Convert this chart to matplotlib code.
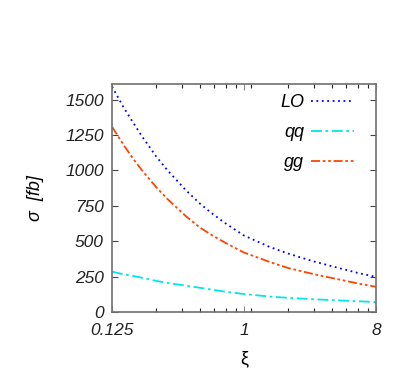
import numpy as np
import matplotlib.pyplot as plt
from matplotlib.ticker import FixedLocator, NullFormatter

xi = [0.125, 0.15, 0.175, 0.2, 0.25, 0.3, 0.4, 0.5, 0.6, 0.75, 1, 1.5, 2, 3, 4, 6, 8]
sigma_lo = [1592, 1445, 1335, 1242, 1100, 1000, 860, 765, 698, 625, 540, 459, 413, 357, 323, 276, 248]
sigma_qq = [285, 266, 254, 242, 220, 205, 186, 171, 158, 143, 127, 109, 100, 90, 84, 76, 70]
sigma_gg = [1308, 1180, 1080, 1002, 883, 797, 677, 596, 544, 487, 420, 353, 311, 267, 240, 202, 178]

x_major = [0.125, 1, 8]
x_major_labels = ['0.125', '1', '8']
x_minor = [0.25, 0.375, 0.5, 0.625, 0.75, 0.875, 1.125, 2, 3, 4, 5, 6, 7]
y_ticks = [0, 250, 500, 750, 1000, 1250, 1500]

plt.rcParams['font.family'] = ['Liberation Sans', 'DejaVu Sans']

fig = plt.figure(figsize=(4.07, 3.70), dpi=100)
ax = fig.add_axes([112 / 407, 58 / 370, 264 / 407, 228 / 370])

ax.plot(xi, sigma_lo, color='#0000ff', lw=1.3, linestyle=(0, (1, 2)), label='LO')
ax.plot(xi, sigma_qq, color='#00e5ee', lw=1.3, linestyle=(0, (6, 2, 1.5, 2)), label='qq')
ax.plot(xi, sigma_gg, color='#ff4500', lw=1.3, linestyle=(0, (5, 1.5, 1.5, 1.5, 1.5, 1.5)), label='gg')

ax.set_xscale('log')
ax.set_xlim(0.125, 8)
ax.set_ylim(0, 1610)

ax.xaxis.set_major_locator(FixedLocator(x_major))
ax.set_xticklabels(x_major_labels, fontstyle='italic', fontsize=12.5)
ax.xaxis.set_minor_locator(FixedLocator(x_minor))
ax.xaxis.set_minor_formatter(NullFormatter())
ax.set_yticks(y_ticks)
ax.set_yticklabels([str(v) for v in y_ticks], fontstyle='italic', fontsize=12.5)

ax.tick_params(which='both', direction='in', top=True, right=True, colors='#222222')
ax.tick_params(which='major', length=4, width=0.8, color='#888888')
ax.tick_params(which='minor', length=3, width=0.8)
ax.tick_params(axis='y', which='major', color='#444444', pad=6)
ax.tick_params(axis='x', which='major', pad=8)
for s in ax.spines.values():
    s.set_color('#707070')
    s.set_linewidth(1.2)

ax.set_xlabel('ξ', fontsize=13, labelpad=9)
ax.set_ylabel('σ  [fb]', fontstyle='italic', fontsize=13, labelpad=15)

leg = ax.legend(loc='upper right', frameon=False, markerfirst=False,
                handlelength=2.4, labelspacing=0.72, borderpad=0, borderaxespad=0,
                prop={'style': 'italic', 'size': 13},
                bbox_to_anchor=(0.917, 0.955), handletextpad=0.35)

fig.savefig('out.png', dpi=100)
